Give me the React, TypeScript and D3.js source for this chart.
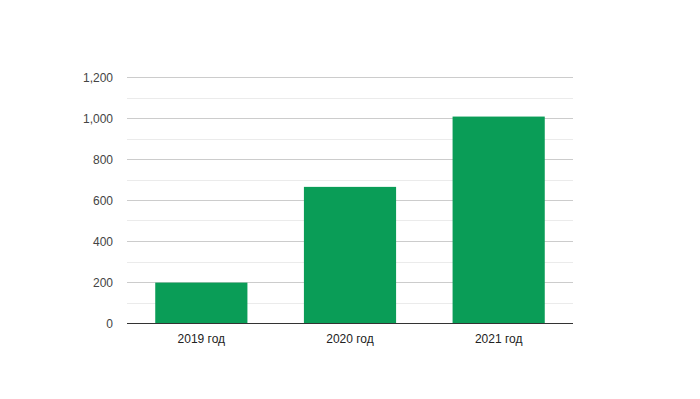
import React, { useRef, useEffect } from 'react';
import * as d3 from 'd3';

const years = ['2019 год', '2020 год', '2021 год'];
const values = [197, 664, 1007];
const yTicks = [0, 200, 400, 600, 800, 1000, 1200];
const minorTicks = [100, 300, 500, 700, 900, 1100];

const App = () => {
  const svgRef = useRef<SVGSVGElement>(null);

  useEffect(() => {
    if (!svgRef.current) return;
    d3.select(svgRef.current).selectAll('*').remove();

    const width = 700;
    const height = 399;
    const margin = { top: 77, right: 127, bottom: 76, left: 127 };

    const svg = d3.select(svgRef.current)
      .attr('width', width)
      .attr('height', height);

    const x = d3.scaleBand()
      .domain(years)
      .range([margin.left, width - margin.right])
      .paddingInner(0.38)
      .paddingOuter(0.19);

    const y = d3.scaleLinear()
      .domain([0, 1200])
      .range([height - margin.bottom, margin.top]);

    // minor grid
    svg.append('g').selectAll('line')
      .data(minorTicks)
      .enter()
      .append('line')
      .attr('x1', margin.left)
      .attr('x2', width - margin.right)
      .attr('y1', d => Math.round(y(d)) + 0.5)
      .attr('y2', d => Math.round(y(d)) + 0.5)
      .attr('stroke', '#ebebeb');

    // major grid
    svg.append('g').selectAll('line')
      .data(yTicks.filter(d => d > 0))
      .enter()
      .append('line')
      .attr('x1', margin.left)
      .attr('x2', width - margin.right)
      .attr('y1', d => Math.round(y(d)) + 0.5)
      .attr('y2', d => Math.round(y(d)) + 0.5)
      .attr('stroke', '#cccccc');

    // y labels
    svg.append('g').selectAll('text')
      .data(yTicks)
      .enter()
      .append('text')
      .attr('x', margin.left - 14)
      .attr('y', d => y(d) + 4.5)
      .attr('text-anchor', 'end')
      .attr('font-family', 'Arial, "Liberation Sans", sans-serif')
      .attr('font-size', 12)
      .attr('fill', '#444444')
      .text(d => d3.format(',')(d));

    // bars
    svg.append('g').selectAll('rect')
      .data(values)
      .enter()
      .append('rect')
      .attr('x', (d, i) => x(years[i]) as number)
      .attr('y', d => y(d))
      .attr('width', x.bandwidth())
      .attr('height', d => y(0) - y(d))
      .attr('fill', '#0a9d57');

    // baseline
    svg.append('line')
      .attr('x1', margin.left)
      .attr('x2', width - margin.right)
      .attr('y1', Math.round(y(0)) + 0.5)
      .attr('y2', Math.round(y(0)) + 0.5)
      .attr('stroke', '#333333');

    // x labels
    svg.append('g').selectAll('text')
      .data(years)
      .enter()
      .append('text')
      .attr('x', d => (x(d) as number) + x.bandwidth() / 2)
      .attr('y', y(0) + 20)
      .attr('text-anchor', 'middle')
      .attr('font-family', 'Arial, "Liberation Sans", sans-serif')
      .attr('font-size', 12)
      .attr('fill', '#222222')
      .text(d => d);
  }, []);

  return (
    <div style={{ position: 'absolute', left: 0, top: 0 }}>
      <svg ref={svgRef}></svg>
    </div>
  );
};

export default App;
